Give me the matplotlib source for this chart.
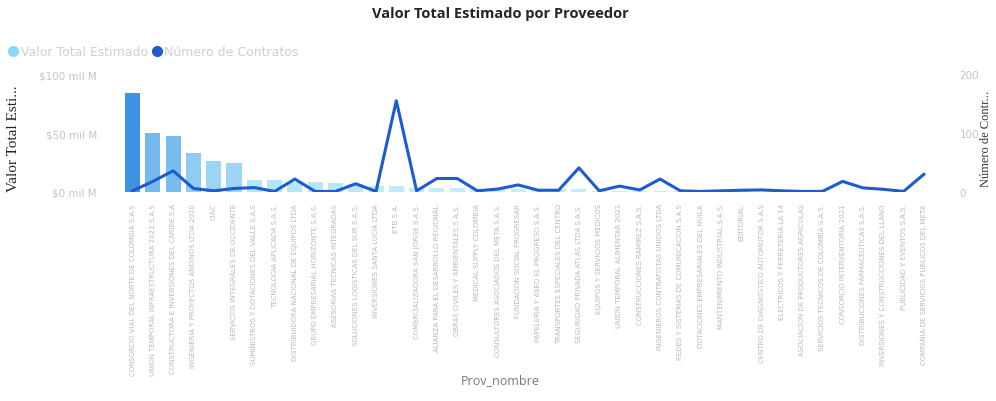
import numpy as np
import matplotlib.pyplot as plt
from matplotlib.colors import LinearSegmentedColormap
from matplotlib.lines import Line2D

# proveedores (nombres ilegibles en la imagen, aproximados)
proveedores = [
    'CONSORCIO VIAL DEL NORTE DE COLOMBIA S.A.S',
    'UNION TEMPORAL INFRAESTRUCTURA 2021 S.A.S',
    'CONSTRUCTORA E INVERSIONES DEL CARIBE S.A',
    'INGENIERIA Y PROYECTOS ANDINOS LTDA 2020',
    'CIAC',
    'SERVICIOS INTEGRALES DE OCCIDENTE',
    'SUMINISTROS Y DOTACIONES DEL VALLE S.A.S',
    'TECNOLOGIA APLICADA S.A.S.',
    'DISTRIBUIDORA NACIONAL DE EQUIPOS LTDA',
    'GRUPO EMPRESARIAL HORIZONTE S.A.S.',
    'ASESORIAS TECNICAS INTEGRADAS',
    'SOLUCIONES LOGISTICAS DEL SUR S.A.S.',
    'INVERSIONES SANTA LUCIA LTDA',
    'ETB S.A.',
    'COMERCIALIZADORA SAN JORGE S.A.S.',
    'ALIANZA PARA EL DESARROLLO REGIONAL',
    'OBRAS CIVILES Y AMBIENTALES S.A.S.',
    'MEDICAL SUPPLY COLOMBIA',
    'CONSULTORES ASOCIADOS DEL META S.A.S.',
    'FUNDACION SOCIAL PROGRESAR',
    'PAPELERIA Y ASEO EL PROGRESO S.A.S.',
    'TRANSPORTES ESPECIALES DEL CENTRO',
    'SEGURIDAD PRIVADA ATLAS LTDA S.A.S.',
    'EQUIPOS Y SERVICIOS MEDICOS',
    'UNION TEMPORAL ALIMENTAR 2021',
    'CONSTRUCCIONES RAMIREZ S.A.S.',
    'INGENIEROS CONTRATISTAS UNIDOS LTDA',
    'REDES Y SISTEMAS DE COMUNICACION S.A.S',
    'DOTACIONES EMPRESARIALES DEL HUILA',
    'MANTENIMIENTO INDUSTRIAL S.A.S.',
    'EDITORIAL',
    'CENTRO DE DIAGNOSTICO AUTOMOTOR S.A.S',
    'ELECTRICOS Y FERRETERIA LA 14',
    'ASOCIACION DE PRODUCTORES AGRICOLAS',
    'SERVICIOS TECNICOS DE COLOMBIA S.A.S.',
    'CONSORCIO INTERVENTORIA 2021',
    'DISTRIBUCIONES FARMACEUTICAS S.A.S.',
    'INVERSIONES Y CONSTRUCCIONES DEL LLANO',
    'PUBLICIDAD Y EVENTOS S.A.S.',
    'COMPAÑIA DE SERVICIOS PUBLICOS DEL META',
]

# Valor Total Estimado (mil M)
valor_total = [84.5, 49.9, 47.6, 33.5, 26.3, 25.0, 10.2, 10.0, 8.6, 8.2,
               8.0, 7.0, 5.5, 5.0, 3.5, 3.2, 3.0, 2.9, 2.8, 2.7,
               2.6, 2.5, 2.4, 0.9, 0.8, 0.7, 0.7, 0.6, 0.6, 0.5,
               0.5, 0.4, 0.4, 0.4, 0.3, 0.3, 0.3, 0.2, 0.2, 0.2]

# Numero de Contratos
num_contratos = [2, 18, 36, 6, 2, 6, 7.5, 1, 22, 1,
                 1, 14, 1, 155, 2, 23, 23, 2, 5, 12,
                 3, 3, 41, 2, 10, 3.5, 22, 2, 1, 2,
                 3, 3.5, 2, 1, 1, 18, 7, 4.6, 1, 30]

W, H = 996, 402
fig = plt.figure(figsize=(W / 100, H / 100), dpi=100)
ax = fig.add_axes([122 / W, 1 - 193 / H, 814 / W, 121 / H])
ax2 = ax.twinx()

x = np.arange(len(proveedores))

cmap = LinearSegmentedColormap.from_list('pbi', ['#c4f1fc', '#3f93e3'])
colores = [cmap(v / max(valor_total)) for v in valor_total]
ax.bar(x, valor_total, width=0.74, color=colores, zorder=2)

ax2.plot(x, num_contratos, color='#1c5ccf', lw=2.2, zorder=3)

ax.set_xlim(-0.52, 39.6)
ax.set_ylim(0, 102.8)
ax2.set_ylim(0, 205.6)
ax.set_yticks([0, 50, 100])
ax.set_yticklabels(['$0 mil M', '$50 mil M', '$100 mil M'])
ax2.set_yticks([0, 100, 200])

for a in (ax, ax2):
    for s in a.spines.values():
        s.set_visible(False)
    a.tick_params(length=0, labelsize=7.5, labelcolor='#c4c4c4')
ax.tick_params(axis='y', pad=18)
ax2.tick_params(axis='y', pad=17)

ax.set_xticks(x)
ax.set_xticklabels(proveedores, rotation=90, fontsize=5, color='#b8b8c0')
ax.tick_params(axis='x', pad=8)

ax.set_ylabel('Valor Total Esti...', family='Liberation Serif', fontsize=11,
              color='#222222')
ax.yaxis.set_label_coords(-0.125, 0.45)
ax2.set_ylabel('Número de Contr...', family='Liberation Serif', fontsize=9,
               color='#333333')
ax2.yaxis.set_label_coords(1.054, 0.45)

fig.text(0.502, 1 - 14 / H, 'Valor Total Estimado por Proveedor',
         ha='center', va='center', fontsize=10.5, fontweight='bold',
         family='Open Sans', color='#252423')
fig.text(0.502, 1 - 381 / H, 'Prov_nombre', ha='center', va='center',
         fontsize=9, color='#777777', family='Open Sans')

handles = [
    Line2D([], [], marker='o', ls='', color='#86dcf7', markersize=7),
    Line2D([], [], marker='o', ls='', color='#1c5ccf', markersize=7),
]
leg = fig.legend(handles, ['Valor Total Estimado', 'Número de Contratos'],
                 loc='center left', bbox_to_anchor=(0.002, 1 - 53 / H), ncol=2,
                 frameon=False, fontsize=9, handletextpad=0.1,
                 columnspacing=0.2, borderaxespad=0, handlelength=1)
for t in leg.get_texts():
    t.set_color('#d0d0d0')

fig.savefig('out.png', dpi=100)
